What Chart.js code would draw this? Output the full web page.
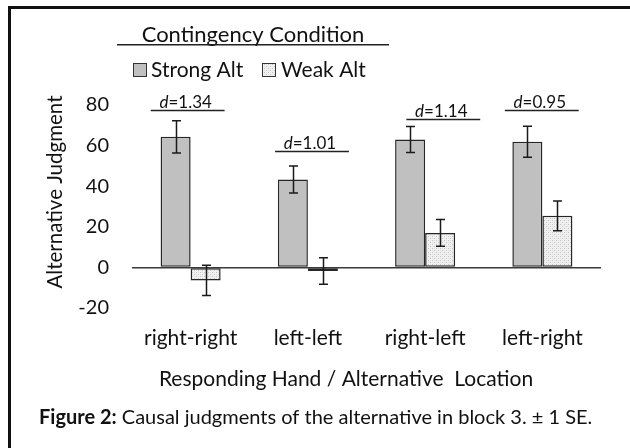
<!DOCTYPE html>
<html>
<head>
<meta charset="utf-8">
<script src="https://cdn.jsdelivr.net/npm/chart.js@4.4.1/dist/chart.umd.min.js"></script>
<style>
  html, body { margin: 0; padding: 0; background: #fff; }
  #wrap { position: relative; width: 630px; height: 448px; }
</style>
</head>
<body>
<div id="wrap"><canvas id="c" width="630" height="448"></canvas></div>
<script>
const categories = ['right-right', 'left-left', 'right-left', 'left-right'];
const seriesNames = ['Strong Alt', 'Weak Alt'];
const strongAlt = [64.3, 43.3, 63.0, 61.9];
const weakAlt = [-6.4, -1.8, 17.0, 25.4];
const strongSE = [7.9, 6.7, 6.4, 7.6];
const weakSE = [7.4, 6.5, 6.6, 7.3];
const yTicks = [-20, 0, 20, 40, 60, 80];
const effectSizes = ['1.34', '1.01', '1.14', '0.95'];
const effectLevels = [77.3, 57.4, 73.0, 77.3];
const effectSpans = [[-0.34, 0.29], [-0.28, 0.35], [-0.16, 0.47], [-0.32, 0.31]];
const legendTitle = 'Contingency Condition';
const yTitle = 'Alternative Judgment';
const xTitle = 'Responding Hand / Alternative  Location';
const captionBold = 'Figure 2:';
const captionText = ' Causal judgments of the alternative in block 3. \u00b1 1 SE.';

const FONT = 'Lato, "Open Sans", sans-serif';
const TEXT = '#111';

function makePattern() {
  const t = document.createElement('canvas');
  t.width = 4; t.height = 4;
  const g = t.getContext('2d');
  g.fillStyle = '#f1f1f1';
  g.fillRect(0, 0, 4, 4);
  g.fillStyle = '#c2c2c2';
  g.fillRect(0, 0, 1, 1);
  g.fillRect(2, 2, 1, 1);
  g.fillStyle = '#e2e2e2';
  g.fillRect(2, 0, 1, 1);
  g.fillRect(0, 2, 1, 1);
  return document.getElementById('c').getContext('2d').createPattern(t, 'repeat');
}
const weakFill = makePattern();
const strongFill = '#c0c0c0';
const seriesErrors = [strongSE, weakSE];

const decor = {
  id: 'decor',
  beforeDraw(chart) {
    const ctx = chart.ctx;
    ctx.save();
    ctx.fillStyle = '#111';
    ctx.fillRect(8, 6, 622, 3);
    ctx.fillRect(8, 6, 3, 442);
    ctx.restore();
  },
  afterDatasetsDraw(chart) {
    const ctx = chart.ctx;
    const xs = chart.scales.x, ys = chart.scales.y;
    ctx.save();
    ctx.strokeStyle = '#1a1a1a';
    ctx.lineWidth = 1.5;
    chart.data.datasets.forEach((ds, di) => {
      const meta = chart.getDatasetMeta(di);
      meta.data.forEach((el, i) => {
        const v = ds.data[i], se = seriesErrors[di][i];
        const yt = ys.getPixelForValue(v + se), yb = ys.getPixelForValue(v - se);
        const x = Math.round(el.x) + 0.5;
        ctx.beginPath();
        ctx.moveTo(x, yt); ctx.lineTo(x, yb);
        ctx.moveTo(x - 4.5, yt); ctx.lineTo(x + 4.5, yt);
        ctx.moveTo(x - 4.5, yb); ctx.lineTo(x + 4.5, yb);
        ctx.stroke();
      });
    });
    ctx.lineWidth = 1.5;
    ctx.strokeStyle = '#222';
    effectSizes.forEach((d, i) => {
      const x1 = xs.getPixelForValue(i + effectSpans[i][0]);
      const x2 = xs.getPixelForValue(i + effectSpans[i][1]);
      const y = Math.round(ys.getPixelForValue(effectLevels[i])) + 0.5;
      ctx.beginPath(); ctx.moveTo(x1, y); ctx.lineTo(x2, y); ctx.stroke();
      ctx.fillStyle = TEXT;
      ctx.textBaseline = 'alphabetic';
      ctx.font = 'italic 17px ' + FONT;
      const wD = ctx.measureText('d').width;
      ctx.font = '17px ' + FONT;
      const rest = '=' + d;
      const wR = ctx.measureText(rest).width;
      const cx = (x1 + x2) / 2 - 2;
      const sx = cx - (wD + wR) / 2;
      ctx.font = 'italic 17px ' + FONT;
      ctx.textAlign = 'left';
      ctx.fillText('d', sx, y - 3);
      ctx.font = '17px ' + FONT;
      ctx.fillText(rest, sx + wD, y - 3);
    });
    ctx.restore();
  },
  afterDraw(chart) {
    const ctx = chart.ctx;
    ctx.save();
    ctx.fillStyle = TEXT;
    ctx.font = '22px ' + FONT;
    ctx.textAlign = 'center';
    ctx.textBaseline = 'alphabetic';
    ctx.fillText(legendTitle, 253, 42);
    ctx.fillStyle = '#222';
    ctx.fillRect(117, 44, 272, 1.5);
    const items = [
      { sx: 133, tx: 151, fill: strongFill, label: seriesNames[0] },
      { sx: 262, tx: 281, fill: weakFill, label: seriesNames[1] }
    ];
    items.forEach(it => {
      ctx.fillStyle = it.fill;
      ctx.fillRect(it.sx, 63, 13, 13);
      ctx.strokeStyle = '#333';
      ctx.lineWidth = 1;
      ctx.strokeRect(it.sx + 0.5, 63.5, 13, 13);
      ctx.fillStyle = TEXT;
      ctx.font = '21px ' + FONT;
      ctx.textAlign = 'left';
      ctx.textBaseline = 'middle';
      ctx.fillText(it.label, it.tx, 70);
    });
    ctx.save();
    ctx.translate(55, 192);
    ctx.rotate(-Math.PI / 2);
    ctx.font = '20.5px ' + FONT;
    ctx.textAlign = 'center';
    ctx.textBaseline = 'middle';
    ctx.fillStyle = TEXT;
    ctx.fillText(yTitle, 0, 0);
    ctx.restore();
    ctx.font = '21px ' + FONT;
    ctx.textAlign = 'center';
    ctx.textBaseline = 'middle';
    ctx.fillText(xTitle, 346, 379);
    ctx.textAlign = 'left';
    ctx.font = 'bold 20px ' + FONT;
    const wb = ctx.measureText(captionBold).width;
    ctx.fillText(captionBold, 39, 418);
    ctx.font = '20px ' + FONT;
    ctx.fillText(captionText, 39 + wb, 418);
    ctx.restore();
  }
};

new Chart(document.getElementById('c'), {
  type: 'bar',
  data: {
    labels: categories,
    datasets: [
      { label: seriesNames[0], data: strongAlt, backgroundColor: strongFill, borderColor: '#262626', borderWidth: 1.5, borderSkipped: false },
      { label: seriesNames[1], data: weakAlt, backgroundColor: weakFill, borderColor: '#262626', borderWidth: 1.5, borderSkipped: false }
    ]
  },
  options: {
    responsive: false,
    animation: false,
    events: [],
    layout: { padding: { top: 105, right: 29, left: 0, bottom: 0 } },
    datasets: { bar: { barPercentage: 1.0, categoryPercentage: 0.512 } },
    plugins: { legend: { display: false }, tooltip: { enabled: false }, title: { display: false } },
    scales: {
      x: {
        grid: { display: false },
        border: { display: false },
        ticks: { color: TEXT, font: { family: FONT, size: 21 }, padding: 10, maxRotation: 0 },
        afterFit(s) { s.height = 140; }
      },
      y: {
        min: Math.min(...yTicks),
        max: Math.max(...yTicks),
        afterBuildTicks(s) { s.ticks = yTicks.map(v => ({ value: v })); },
        grid: {
          drawTicks: false,
          color: c => (c.tick && c.tick.value === 0) ? '#3a3a3a' : 'rgba(0,0,0,0)',
          lineWidth: 1.5
        },
        border: { display: false },
        ticks: { color: TEXT, font: { family: FONT, size: 20 }, padding: 23 },
        afterFit(s) { s.width = 132; }
      }
    }
  },
  plugins: [decor]
});
</script>
</body>
</html>
